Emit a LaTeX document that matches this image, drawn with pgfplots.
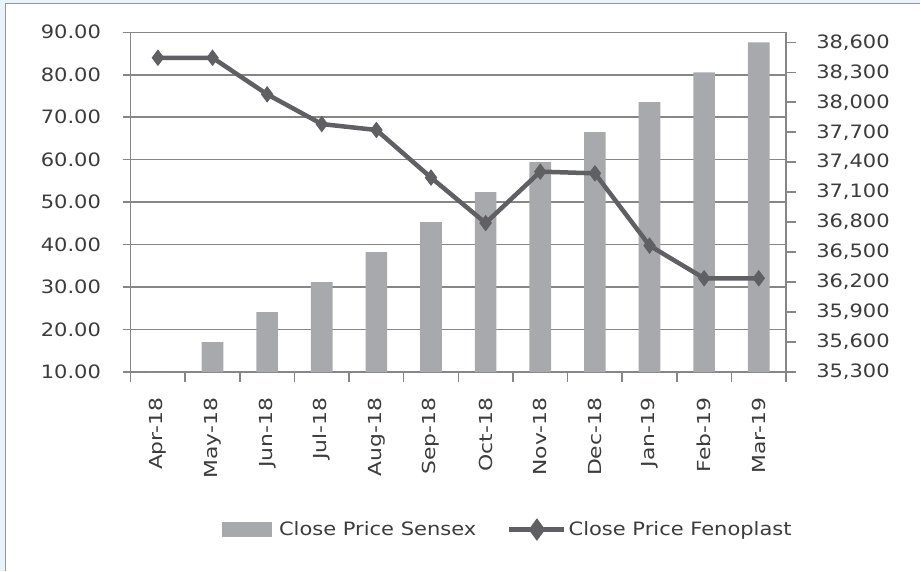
\documentclass[border=0pt]{standalone}
\usepackage{fontspec}
\setmainfont{DejaVu Sans}[FakeStretch=1.14]
\newfontfamily\xlabfont{DejaVu Sans}[FakeStretch=1.22]
\usepackage{pgfplots}
\pgfplotsset{compat=1.18}
\definecolor{bargray}{RGB}{168,169,173}
\definecolor{linegray}{RGB}{95,95,100}
\definecolor{gridgray}{RGB}{134,134,134}
\definecolor{txtgray}{RGB}{60,60,60}
\definecolor{framebl}{RGB}{232,243,252}
\definecolor{framegray}{RGB}{150,150,150}
\pgfplotsset{common/.style={scale only axis, width=656bp, height=340.2bp,
  at={(130.7bp,198.5bp)}, anchor=south west, xmin=-0.5, xmax=11.5,
  tick align=outside, /pgf/number format/assume math mode=true,
  every tick label/.append style={font=\fontsize{18.5}{22}\selectfont, text=txtgray, inner sep=0pt}}}
\begin{document}
\begin{tikzpicture}[x=1bp,y=1bp]
\fill[framebl] (0,0) rectangle (921,571);
\fill[white] (6,0) rectangle (921,567);
\draw[framegray, line width=1.5bp] (5.5,0) -- (5.5,567.25) -- (921,567.25);
\useasboundingbox (0,0) rectangle (921,571);

% left axis, grid, x ticks
\begin{axis}[common, ymin=10, ymax=90, ytick={10,20,...,90},
  yticklabel style={xshift=-21.5bp, /pgf/number format/fixed, /pgf/number format/fixed zerofill, /pgf/number format/precision=2},
  axis line style={gridgray, line width=1.5bp},
  ymajorgrids, grid style={gridgray, line width=1.5bp},
  major tick style={gridgray, line width=1.5bp},
  major tick length=8bp,
  xtick={0,...,11},
  xticklabels={Apr-18,May-18,Jun-18,Jul-18,Aug-18,Sep-18,Oct-18,Nov-18,Dec-18,Jan-19,Feb-19,Mar-19},
  x tick label style={rotate=90, anchor=east, font=\xlabfont\fontsize{18}{22}\selectfont, xshift=-17.5bp},
  major x tick style={draw=none},
  minor xtick={-0.5,0.5,...,11.5}, minor tick length=10bp,
  minor tick style={gridgray, line width=1.5bp},
  ytick pos=left, xtick pos=bottom]
\addplot[draw=none] coordinates {(0,50)};
\end{axis}

% right axis with bars
\begin{axis}[common, ymin=35300, ymax=38700,
  ytick={35300,35600,35900,36200,36500,36800,37100,37400,37700,38000,38300,38600},
  axis y line*=right, axis x line=none,
  y axis line style={gridgray, line width=1.5bp},
  ytick style={gridgray, line width=1.5bp},
  major tick length=10bp, scaled y ticks=false,
  yticklabel style={xshift=20bp, /pgf/number format/fixed, /pgf/number format/1000 sep={,}}]
\addplot[ybar, bar width=21.7bp, bar shift=0pt, fill=bargray, draw=none] coordinates {
 (0,35300) (1,35600) (2,35900) (3,36200) (4,36500) (5,36800)
 (6,37100) (7,37400) (8,37700) (9,38000) (10,38300) (11,38600)};
\end{axis}

% line on left scale
\begin{axis}[common, hide axis, ymin=10, ymax=90,
  legend style={at={(0.5752,-0.4630)}, anchor=center, draw=none, fill=none,
    font=\fontsize{18.5}{22}\selectfont, text=txtgray,
    /tikz/every even column/.append style={column sep=29bp}},
  legend columns=2, legend cell align=left]
\addlegendimage{legend image code/.code={\fill[bargray] (0bp,-7bp) rectangle (49bp,7bp); \path (55bp,0bp);}}
\addlegendentry{Close Price Sensex}
\addplot[linegray, line width=4.5bp, mark=diamond*, mark size=7.5bp,
  mark options={solid, fill=linegray, line width=1bp},
  legend image code/.code={\draw[linegray, line width=4.5bp] (0bp,0bp) -- (55bp,0bp);
    \fill[linegray] (27.5bp,7.5bp) -- (33bp,0bp) -- (27.5bp,-7.5bp) -- (22bp,0bp) -- cycle;}]
  coordinates {
 (0,84.0) (1,84.0) (2,75.4) (3,68.4) (4,67.0) (5,55.8)
 (6,45.1) (7,57.2) (8,56.8) (9,39.8) (10,32.1) (11,32.1)};
\addlegendentry{Close Price Fenoplast}
\end{axis}
\end{tikzpicture}
\end{document}
